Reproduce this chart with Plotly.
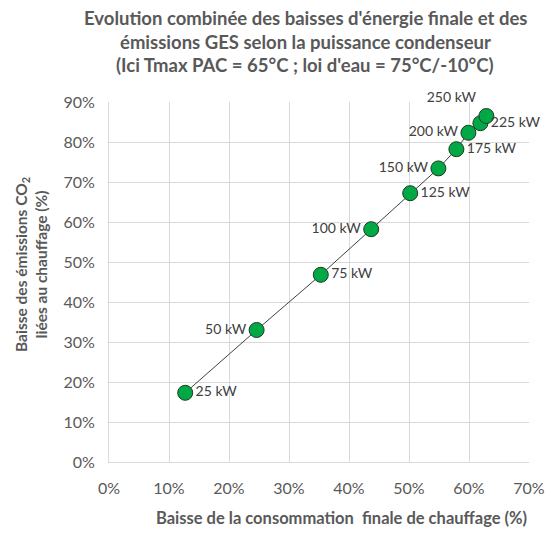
import plotly.graph_objects as go

# Data
puissance = ["25 kW", "50 kW", "75 kW", "100 kW", "125 kW", "150 kW", "175 kW", "200 kW", "225 kW", "250 kW"]
baisse_conso = [0.127, 0.246, 0.353, 0.437, 0.502, 0.549, 0.579, 0.599, 0.619, 0.629]
baisse_co2 = [0.173, 0.330, 0.468, 0.582, 0.672, 0.734, 0.782, 0.823, 0.847, 0.865]
label_pos = ["middle right", "middle left", "middle right", "middle left", "middle right",
             "middle left", "middle right", "middle left", "middle right", "top left"]

FONT = "Lato"
GREY = "#595959"

fig = go.Figure()
fig.add_trace(go.Scatter(
    x=baisse_conso, y=baisse_co2, mode="lines+markers+text",
    text=puissance, textposition=label_pos,
    textfont=dict(family=FONT, size=14, color="#404040"),
    line=dict(color="#404040", width=1),
    marker=dict(size=15, color="#00A846", line=dict(color="#1e3b1e", width=1)),
    cliponaxis=False, showlegend=False,
))

title_lines = [
    "Evolution combinée des baisses d'énergie finale et des",
    "émissions GES selon la puissance condenseur",
    "(Ici Tmax PAC = 65°C ; loi d'eau = 75°C/-10°C)",
]
title_y = [18, 42, 65]
for txt, yy in zip(title_lines, title_y):
    fig.add_annotation(text=f"<b>{txt}</b>", xref="paper", yref="paper",
                       x=(305 - 109) / 420, y=(462 - yy) / 360,
                       xanchor="center", yanchor="middle", showarrow=False,
                       font=dict(family=FONT, size=18.5, color=GREY))

fig.add_annotation(text="<b>Baisse des émissions CO<sub>2</sub></b><br><b>liées au chauffage (%)</b>",
                   xref="paper", yref="paper", x=(31 - 109) / 420, y=(462 - 265) / 360,
                   xanchor="center", yanchor="middle", textangle=-90, showarrow=False,
                   font=dict(family=FONT, size=15.5, color=GREY))
fig.add_annotation(text="<b>Baisse de la consommation  finale de chauffage (%)</b>",
                   xref="paper", yref="paper", x=(341 - 109) / 420, y=(462 - 518) / 360,
                   xanchor="center", yanchor="middle", showarrow=False,
                   font=dict(family=FONT, size=16.5, color=GREY))

axis_common = dict(showgrid=True, gridcolor="#d9d9d9", gridwidth=1, zeroline=False,
                   showline=True, linecolor="#d9d9d9", linewidth=1, mirror=False,
                   tickformat=".0%", ticks="", automargin=False,
                   tickfont=dict(family=FONT, size=16, color=GREY))

fig.update_layout(
    width=548, height=533,
    margin=dict(l=109, r=19, t=102, b=71, autoexpand=False),
    paper_bgcolor="white", plot_bgcolor="white",
    xaxis=dict(range=[0, 0.7], dtick=0.1, ticklabelstandoff=12, **axis_common),
    yaxis=dict(range=[0, 0.9], dtick=0.1, ticklabelstandoff=10, **axis_common),
)

fig.write_html(
    "out.html",
    config={"displayModeBar": False},
    post_script=("document.body.style.margin='0';"
                 "document.body.style.overflow='hidden';"
                 "document.documentElement.style.overflow='hidden';"),
)
